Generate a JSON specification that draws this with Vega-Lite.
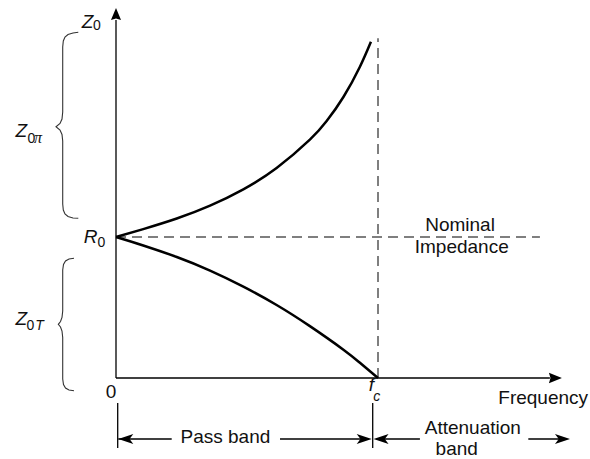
{
  "$schema": "https://vega.github.io/schema/vega-lite/v6.json",
  "width": 590,
  "height": 459,
  "padding": 0,
  "autosize": {"type": "fit", "contains": "padding"},
  "background": "white",
  "config": {"view": {"stroke": null}},
  "datasets": {
    "curves": [
      {"curve": "pi", "i": 0, "f": 0, "Z": 1.0},
      {"curve": "pi", "i": 1, "f": 0.104, "Z": 1.056},
      {"curve": "pi", "i": 2, "f": 0.232, "Z": 1.131},
      {"curve": "pi", "i": 3, "f": 0.359, "Z": 1.222},
      {"curve": "pi", "i": 4, "f": 0.486, "Z": 1.338},
      {"curve": "pi", "i": 5, "f": 0.613, "Z": 1.489},
      {"curve": "pi", "i": 6, "f": 0.740, "Z": 1.690},
      {"curve": "pi", "i": 7, "f": 0.804, "Z": 1.822},
      {"curve": "pi", "i": 8, "f": 0.868, "Z": 1.993},
      {"curve": "pi", "i": 9, "f": 0.931, "Z": 2.208},
      {"curve": "pi", "i": 10, "f": 0.973, "Z": 2.385},
      {"curve": "T", "i": 0, "f": 0, "Z": 1.0},
      {"curve": "T", "i": 1, "f": 0.104, "Z": 0.940},
      {"curve": "T", "i": 2, "f": 0.232, "Z": 0.858},
      {"curve": "T", "i": 3, "f": 0.359, "Z": 0.762},
      {"curve": "T", "i": 4, "f": 0.486, "Z": 0.648},
      {"curve": "T", "i": 5, "f": 0.613, "Z": 0.518},
      {"curve": "T", "i": 6, "f": 0.740, "Z": 0.368},
      {"curve": "T", "i": 7, "f": 0.868, "Z": 0.201},
      {"curve": "T", "i": 8, "f": 0.931, "Z": 0.108},
      {"curve": "T", "i": 9, "f": 1.0, "Z": 0.0}
    ],
    "braces": [
      {"brace": "upper", "i": 0, "f": -0.1439, "Z": 2.4518},
      {"brace": "upper", "i": 1, "f": -0.1641, "Z": 2.4468},
      {"brace": "upper", "i": 2, "f": -0.1832, "Z": 2.4362},
      {"brace": "upper", "i": 3, "f": -0.1947, "Z": 2.4184},
      {"brace": "upper", "i": 4, "f": -0.2011, "Z": 2.3901},
      {"brace": "upper", "i": 5, "f": -0.2034, "Z": 2.3475},
      {"brace": "upper", "i": 6, "f": -0.2034, "Z": 1.8865},
      {"brace": "upper", "i": 7, "f": -0.2061, "Z": 1.8369},
      {"brace": "upper", "i": 8, "f": -0.2137, "Z": 1.8050},
      {"brace": "upper", "i": 9, "f": -0.2290, "Z": 1.7823},
      {"brace": "upper", "i": 10, "f": -0.2137, "Z": 1.7589},
      {"brace": "upper", "i": 11, "f": -0.2061, "Z": 1.7270},
      {"brace": "upper", "i": 12, "f": -0.2034, "Z": 1.6809},
      {"brace": "upper", "i": 13, "f": -0.2034, "Z": 1.2340},
      {"brace": "upper", "i": 14, "f": -0.2011, "Z": 1.1915},
      {"brace": "upper", "i": 15, "f": -0.1947, "Z": 1.1631},
      {"brace": "upper", "i": 16, "f": -0.1832, "Z": 1.1454},
      {"brace": "upper", "i": 17, "f": -0.1641, "Z": 1.1348},
      {"brace": "upper", "i": 18, "f": -0.1439, "Z": 1.1326},
      {"brace": "lower", "i": 0, "f": -0.1603, "Z": 0.8489},
      {"brace": "lower", "i": 1, "f": -0.1794, "Z": 0.8440},
      {"brace": "lower", "i": 2, "f": -0.1927, "Z": 0.8298},
      {"brace": "lower", "i": 3, "f": -0.2004, "Z": 0.8050},
      {"brace": "lower", "i": 4, "f": -0.2034, "Z": 0.7660},
      {"brace": "lower", "i": 5, "f": -0.2034, "Z": 0.4752},
      {"brace": "lower", "i": 6, "f": -0.2061, "Z": 0.4291},
      {"brace": "lower", "i": 7, "f": -0.2118, "Z": 0.4007},
      {"brace": "lower", "i": 8, "f": -0.2202, "Z": 0.3809},
      {"brace": "lower", "i": 9, "f": -0.2118, "Z": 0.3617},
      {"brace": "lower", "i": 10, "f": -0.2061, "Z": 0.3333},
      {"brace": "lower", "i": 11, "f": -0.2034, "Z": 0.2872},
      {"brace": "lower", "i": 12, "f": -0.2034, "Z": -0.0071},
      {"brace": "lower", "i": 13, "f": -0.2004, "Z": -0.0461},
      {"brace": "lower", "i": 14, "f": -0.1927, "Z": -0.0709},
      {"brace": "lower", "i": 15, "f": -0.1794, "Z": -0.0851},
      {"brace": "lower", "i": 16, "f": -0.1603, "Z": -0.0901}
    ],
    "solid": [
      {"f": 0, "f2": 0, "Z": 0, "Z2": 2.539},
      {"f": 0, "f2": 1.656, "Z": 0, "Z2": 0},
      {"f": 0.0065, "f2": 0.0065, "Z": -0.1773, "Z2": -0.4965},
      {"f": 0.9798, "f2": 0.9798, "Z": -0.1773, "Z2": -0.4965},
      {"f": 0.0088, "f2": 0.2126, "Z": -0.4326, "Z2": -0.4326},
      {"f": 0.626, "f2": 0.965, "Z": -0.4326, "Z2": -0.4326},
      {"f": 0.995, "f2": 1.160, "Z": -0.4326, "Z2": -0.4326},
      {"f": 1.5737, "f2": 1.72, "Z": -0.4326, "Z2": -0.4326}
    ],
    "dashed": [
      {"f": 0, "f2": 1.618, "Z": 1, "Z2": 1},
      {"f": 1, "f2": 1, "Z": 0, "Z2": 2.41}
    ],
    "heads": [
      {"dir": "up", "f": 0, "Z": 2.624},
      {"dir": "axisright", "f": 1.702, "Z": 0},
      {"dir": "right", "f": 0.976, "Z": -0.4326},
      {"dir": "right", "f": 1.7328, "Z": -0.4326},
      {"dir": "left", "f": 0.0088, "Z": -0.4326},
      {"dir": "left", "f": 0.983, "Z": -0.4326}
    ],
    "labels": [
      {"role": "plain", "t": "Nominal", "f": 1.313, "Z": 1.0447},
      {"role": "plain", "t": "Impedance", "f": 1.3195, "Z": 0.8844},
      {"role": "plain", "t": "Frequency", "f": 1.6305, "Z": -0.1844},
      {"role": "plain", "t": "Pass band", "f": 0.4176, "Z": -0.4631},
      {"role": "plain", "t": "Attenuation", "f": 1.3618, "Z": -0.3972},
      {"role": "plain", "t": "band", "f": 1.3004, "Z": -0.5461},
      {"role": "plain", "t": "0", "f": -0.0191, "Z": -0.1418},
      {"role": "math", "t": "Z", "f": -0.1088, "Z": 2.4844},
      {"role": "sub", "t": "0", "f": -0.0725, "Z": 2.468},
      {"role": "math", "t": "Z", "f": -0.3615, "Z": 1.7113},
      {"role": "sub", "t": "0", "f": -0.3233, "Z": 1.6667},
      {"role": "subgreek", "t": "π", "f": -0.2977, "Z": 1.6667},
      {"role": "math", "t": "R", "f": -0.0973, "Z": 0.9553},
      {"role": "sub", "t": "0", "f": -0.0561, "Z": 0.9312},
      {"role": "math", "t": "Z", "f": -0.3615, "Z": 0.3759},
      {"role": "sub", "t": "0", "f": -0.3263, "Z": 0.3404},
      {"role": "subit", "t": "T", "f": -0.292, "Z": 0.3404},
      {"role": "math", "t": "f", "f": 0.9744, "Z": -0.0943},
      {"role": "subit", "t": "c", "f": 0.995, "Z": -0.1652}
    ]
  },
  "encoding": {
    "x": {"field": "f", "type": "quantitative", "axis": null, "scale": {"domain": [-0.44275, 1.80916], "nice": false, "zero": false}},
    "y": {"field": "Z", "type": "quantitative", "axis": null, "scale": {"domain": [-0.57447, 2.68085], "nice": false, "zero": false}}
  },
  "layer": [
    {
      "data": {"name": "dashed"},
      "mark": {"type": "rule", "color": "#555555", "strokeWidth": 1.5, "strokeDash": [10, 6]},
      "encoding": {"x2": {"field": "f2"}, "y2": {"field": "Z2"}}
    },
    {
      "data": {"name": "solid"},
      "mark": {"type": "rule", "color": "#000000", "strokeWidth": 1.3},
      "encoding": {"x2": {"field": "f2"}, "y2": {"field": "Z2"}}
    },
    {
      "data": {"name": "braces"},
      "mark": {"type": "line", "color": "#333333", "strokeWidth": 1.1, "interpolate": "linear"},
      "encoding": {"detail": {"field": "brace"}, "order": {"field": "i", "type": "quantitative"}}
    },
    {
      "data": {"name": "curves"},
      "mark": {"type": "line", "color": "#000000", "strokeWidth": 2.5, "interpolate": "natural"},
      "encoding": {"detail": {"field": "curve"}, "order": {"field": "i", "type": "quantitative"}}
    },
    {
      "data": {"name": "heads"},
      "transform": [{"filter": "datum.dir === 'up'"}],
      "mark": {"type": "point", "filled": true, "opacity": 1, "color": "#000000", "size": 576, "shape": "M0,0L-0.42,1L0,0.88L0.42,1Z"}
    },
    {
      "data": {"name": "heads"},
      "transform": [{"filter": "datum.dir === 'axisright'"}],
      "mark": {"type": "point", "filled": true, "opacity": 1, "color": "#000000", "size": 676, "shape": "M0,0L-1,-0.4L-0.88,0L-1,0.4Z"}
    },
    {
      "data": {"name": "heads"},
      "transform": [{"filter": "datum.dir === 'right'"}],
      "mark": {"type": "point", "filled": true, "opacity": 1, "color": "#000000", "size": 900, "shape": "M0,0L-1,-0.34L-0.75,0L-1,0.34Z"}
    },
    {
      "data": {"name": "heads"},
      "transform": [{"filter": "datum.dir === 'left'"}],
      "mark": {"type": "point", "filled": true, "opacity": 1, "color": "#000000", "size": 900, "shape": "M0,0L1,-0.34L0.75,0L1,0.34Z"}
    },
    {
      "data": {"name": "labels"},
      "transform": [{"filter": "datum.role === 'plain'"}],
      "mark": {"type": "text", "font": "Liberation Sans", "fontSize": 19, "color": "#111111", "align": "center", "baseline": "alphabetic"},
      "encoding": {"text": {"field": "t"}}
    },
    {
      "data": {"name": "labels"},
      "transform": [{"filter": "datum.role === 'math'"}],
      "mark": {"type": "text", "font": "Liberation Sans", "fontSize": 19, "fontStyle": "italic", "color": "#111111", "align": "center", "baseline": "alphabetic"},
      "encoding": {"text": {"field": "t"}}
    },
    {
      "data": {"name": "labels"},
      "transform": [{"filter": "datum.role === 'sub'"}],
      "mark": {"type": "text", "font": "Liberation Sans", "fontSize": 14, "color": "#111111", "align": "center", "baseline": "alphabetic"},
      "encoding": {"text": {"field": "t"}}
    },
    {
      "data": {"name": "labels"},
      "transform": [{"filter": "datum.role === 'subit'"}],
      "mark": {"type": "text", "font": "Liberation Sans", "fontSize": 14, "fontStyle": "italic", "color": "#111111", "align": "center", "baseline": "alphabetic"},
      "encoding": {"text": {"field": "t"}}
    },
    {
      "data": {"name": "labels"},
      "transform": [{"filter": "datum.role === 'subgreek'"}],
      "mark": {"type": "text", "font": "Liberation Serif", "fontSize": 16, "fontStyle": "italic", "color": "#111111", "align": "center", "baseline": "alphabetic"},
      "encoding": {"text": {"field": "t"}}
    }
  ]
}
